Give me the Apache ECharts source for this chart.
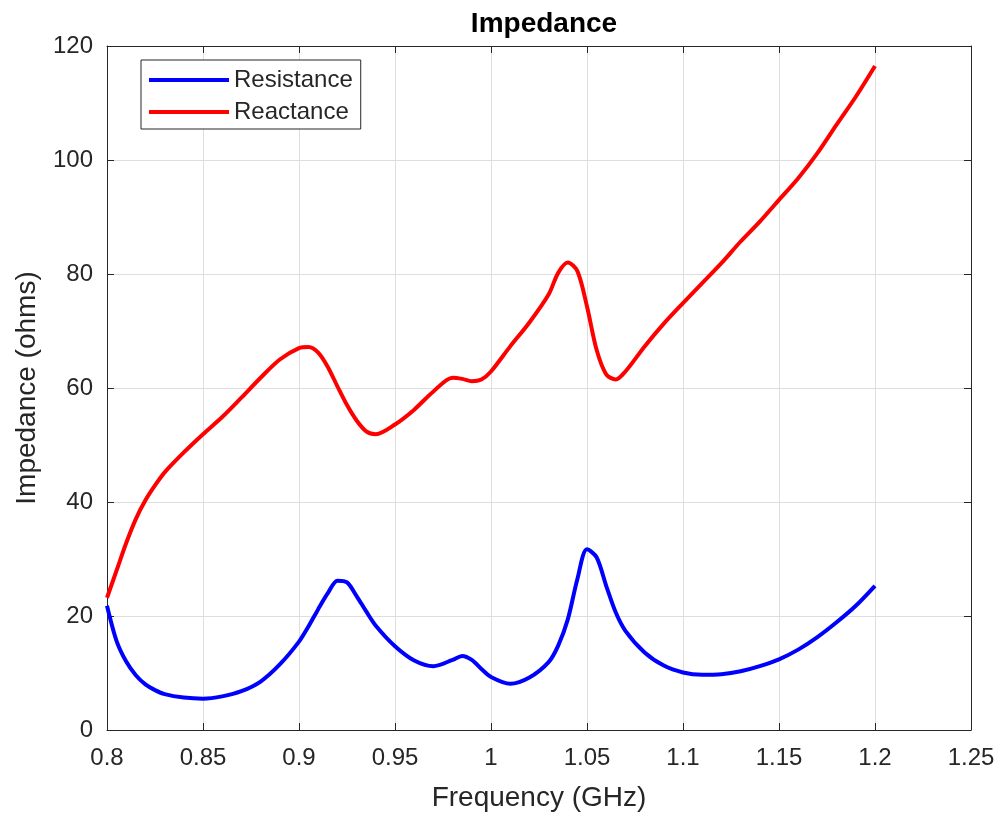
<!DOCTYPE html>
<html>
<head>
<meta charset="utf-8">
<script src="https://cdn.jsdelivr.net/npm/echarts@6/dist/echarts.min.js"></script>
<style>
  html, body { margin: 0; padding: 0; background: #fff; }
  #chart { width: 1005px; height: 817px; }
</style>
</head>
<body>
<div id="chart"></div>
<script>
// frequency samples (GHz)
const freq = [
  0.8, 0.805, 0.81, 0.815, 0.82, 0.825, 0.83, 0.84, 0.85, 0.86, 0.87, 0.88, 0.89,
  0.9, 0.905, 0.91, 0.915, 0.92, 0.925, 0.93, 0.935, 0.94, 0.95, 0.96, 0.97,
  0.98, 0.985, 0.99, 0.995, 1.0, 1.01, 1.02, 1.03, 1.035, 1.04, 1.045, 1.05,
  1.055, 1.06, 1.065, 1.07, 1.08, 1.09, 1.1, 1.11, 1.12, 1.13, 1.14, 1.15,
  1.16, 1.17, 1.18, 1.19, 1.2
];
// resistance (ohms)
const resistance = [
  21.8, 15.6, 12.0, 9.6, 8.0, 7.0, 6.3, 5.7, 5.5, 5.9, 6.8, 8.5, 11.5,
  15.5, 18.2, 21.2, 24.0, 26.2, 25.9, 23.5, 20.8, 18.3, 14.7, 12.2, 11.2,
  12.3, 13.0, 12.3, 10.7, 9.3, 8.1, 9.2, 11.9, 14.8, 19.4, 26.5, 31.7,
  30.3, 25.3, 20.6, 17.4, 13.6, 11.3, 10.1, 9.7, 9.8, 10.3, 11.2, 12.4,
  14.1, 16.3, 18.9, 21.8, 25.3
];
// reactance (ohms)
const reactance = [
  23.2, 28.0, 32.8, 37.0, 40.3, 42.9, 45.2, 48.7, 51.9, 54.9, 58.3, 61.8, 65.0,
  67.0, 67.2, 66.2, 63.7, 60.3, 57.0, 54.3, 52.4, 51.9, 53.6, 56.2, 59.4,
  61.8, 61.6, 61.2, 61.5, 62.9, 67.3, 71.5, 76.4, 80.2, 82.0, 80.5, 74.3,
  66.7, 62.4, 61.5, 62.9, 67.3, 71.3, 74.9, 78.4, 81.9, 85.7, 89.2, 93.0,
  96.8, 101.2, 106.2, 111.1, 116.5
];
const seriesNames = ["Resistance", "Reactance"];

const axisColor = "#262626";
const font = "Liberation Sans, Arial, Helvetica, sans-serif";

function pairs(ys) {
  return freq.map((f, i) => [f, ys[i]]);
}

const chart = echarts.init(document.getElementById("chart"));
const option = {
  backgroundColor: "#fff",
  animation: false,
  title: {
    text: "Impedance",
    left: 539,
    top: 5,
    textAlign: "center",
    textStyle: { fontFamily: font, fontSize: 28, fontWeight: "bold", color: "#000" },
  },
  grid: { left: 107, right: 34, top: 46, bottom: 86 },
  legend: {
    data: seriesNames,
    orient: "vertical",
    left: 141,
    top: 60,
    icon: "rect",
    itemWidth: 80,
    itemHeight: 4,
    itemGap: 8,
    padding: [8, 8, 5, 8],
    borderColor: axisColor,
    borderWidth: 1,
    backgroundColor: "#fff",
    textStyle: { fontFamily: font, fontSize: 24, color: axisColor, lineHeight: 24 },
  },
  xAxis: [
    {
      type: "value",
      min: 0.8,
      max: 1.25,
      interval: 0.05,
      name: "Frequency (GHz)",
      nameLocation: "middle",
      nameGap: 54,
      nameTextStyle: { fontFamily: font, fontSize: 28, color: axisColor },
      axisLine: { show: true, onZero: false, lineStyle: { color: axisColor, width: 1 } },
      axisTick: { show: true, inside: true, length: 7, lineStyle: { color: axisColor } },
      axisLabel: {
        fontFamily: font, fontSize: 24, color: axisColor, margin: 16,
        showMinLabel: true, showMaxLabel: true,
        formatter: (v) => String(parseFloat(v.toFixed(2))),
      },
      splitLine: { show: true, lineStyle: { color: "#dedede", width: 1 } },
    },
    {
      type: "value",
      position: "top",
      min: 0.8,
      max: 1.25,
      interval: 0.05,
      axisLine: { show: true, onZero: false, lineStyle: { color: axisColor, width: 1 } },
      axisTick: { show: true, inside: true, length: 7, lineStyle: { color: axisColor } },
      axisLabel: { show: false },
      splitLine: { show: false },
    },
  ],
  yAxis: [
    {
      type: "value",
      min: 0,
      max: 120,
      interval: 20,
      name: "Impedance (ohms)",
      nameLocation: "middle",
      nameGap: 66,
      nameTextStyle: { fontFamily: font, fontSize: 28, color: axisColor },
      axisLine: { show: true, onZero: false, lineStyle: { color: axisColor, width: 1 } },
      axisTick: { show: true, inside: true, length: 7, lineStyle: { color: axisColor } },
      axisLabel: { fontFamily: font, fontSize: 24, color: axisColor, margin: 14 },
      splitLine: { show: true, lineStyle: { color: "#dedede", width: 1 } },
    },
    {
      type: "value",
      position: "right",
      min: 0,
      max: 120,
      interval: 20,
      axisLine: { show: true, onZero: false, lineStyle: { color: axisColor, width: 1 } },
      axisTick: { show: true, inside: true, length: 7, lineStyle: { color: axisColor } },
      axisLabel: { show: false },
      splitLine: { show: false },
    },
  ],
  series: [
    {
      name: seriesNames[0],
      type: "line",
      data: pairs(resistance),
      showSymbol: false,
      smooth: 0.3,
      lineStyle: { color: "#0000ff", width: 4 },
      itemStyle: { color: "#0000ff" },
    },
    {
      name: seriesNames[1],
      type: "line",
      data: pairs(reactance),
      showSymbol: false,
      smooth: 0.3,
      lineStyle: { color: "#ff0000", width: 4 },
      itemStyle: { color: "#ff0000" },
    },
  ],
};
chart.setOption(option);
</script>
</body>
</html>
